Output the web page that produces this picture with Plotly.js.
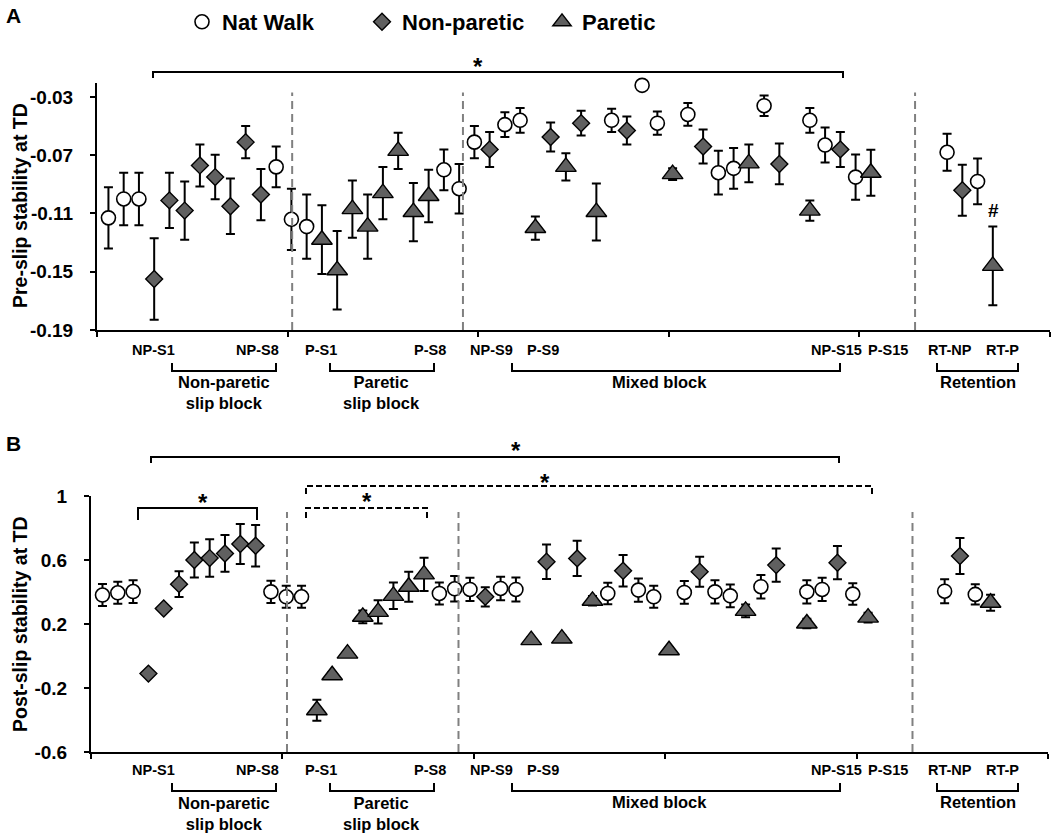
<!DOCTYPE html>
<html>
<head>
<meta charset="utf-8">
<script src="https://cdn.plot.ly/plotly-3.0.1.min.js"></script>
<style>
  html, body { margin: 0; padding: 0; background: #fff; }
  #chart { width: 1053px; height: 834px; }
</style>
</head>
<body>
<div id="chart"></div>
<script>
"use strict";

// Trial index along the protocol (1 = first natural walk, 59 = RT-P).
const natTrials = [1, 2, 3, 12, 13, 14, 23, 24, 25, 27, 28, 34, 36, 37, 39, 41, 42, 44, 47, 48, 50, 56, 58];
const npTrials = [4, 5, 6, 7, 8, 9, 10, 11, 26, 30, 32, 35, 40, 45, 49, 57];
const pTrials = [15, 16, 17, 18, 19, 20, 21, 22, 29, 31, 33, 38, 43, 47, 51, 59];

// Panel A: pre-slip stability at TD (mean and SE).
const natPre = [-0.113, -0.100, -0.100, -0.078, -0.114, -0.119, -0.080, -0.093, -0.061, -0.049, -0.046, -0.046,
  -0.022, -0.048, -0.042, -0.082, -0.079, -0.036, -0.046, -0.063, -0.085, -0.068, -0.088];
const natPreSE = [0.021, 0.018, 0.018, 0.014, 0.021, 0.022, 0.014, 0.017, 0.011, 0.0085, 0.0085, 0.008,
  0.003, 0.008, 0.0078, 0.015, 0.014, 0.007, 0.0085, 0.012, 0.0155, 0.0127, 0.0157];
const npPre = [-0.155, -0.101, -0.108, -0.077, -0.085, -0.105, -0.061, -0.097, -0.066, -0.0575, -0.048, -0.053,
  -0.064, -0.076, -0.066, -0.094];
const npPreSE = [0.028, 0.019, 0.020, 0.0144, 0.0153, 0.019, 0.011, 0.0176, 0.012, 0.010, 0.0085, 0.0096,
  0.0117, 0.014, 0.012, 0.0175];
const pPre = [-0.128, -0.149, -0.107, -0.119, -0.096, -0.067, -0.109, -0.098, -0.120, -0.078, -0.109, -0.083,
  -0.0756, -0.108, -0.082, -0.146];
const pPreSE = [0.0236, 0.027, 0.0197, 0.022, 0.018, 0.0124, 0.020, 0.018, 0.008, 0.0094, 0.0196, 0.004,
  0.013, 0.007, 0.0158, 0.027];

// Panel B: post-slip stability at TD (mean and SE).
const natPost = [0.381, 0.395, 0.403, 0.401, 0.370, 0.370, 0.391, 0.420, 0.416, 0.422, 0.416, 0.391,
  0.412, 0.370, 0.397, 0.401, 0.376, 0.433, 0.401, 0.416, 0.387, 0.405, 0.385];
const natPostSE = [0.069, 0.069, 0.071, 0.069, 0.069, 0.069, 0.069, 0.080, 0.073, 0.073, 0.075, 0.067,
  0.073, 0.069, 0.071, 0.073, 0.071, 0.073, 0.073, 0.073, 0.067, 0.075, 0.063];
const npPost = [-0.110, 0.297, 0.449, 0.600, 0.612, 0.641, 0.700, 0.689, 0.370, 0.589, 0.610, 0.533,
  0.527, 0.568, 0.583, 0.625];
const npPostSE = [0.02, 0.02, 0.081, 0.110, 0.117, 0.115, 0.125, 0.129, 0.06, 0.108, 0.110, 0.098,
  0.094, 0.104, 0.104, 0.113];
const pPost = [-0.339, -0.120, 0.015, 0.245, 0.276, 0.376, 0.433, 0.510, 0.099, 0.109, 0.345, 0.036,
  0.282, 0.203, 0.240, 0.333];
const pPostSE = [0.065, 0.02, 0.02, 0.04, 0.073, 0.083, 0.094, 0.104, 0.02, 0.02, 0.03, 0.02,
  0.04, 0.03, 0.03, 0.05];

const yTicksPre = [-0.19, -0.15, -0.11, -0.07, -0.03];
const yTicksPost = [-0.6, -0.2, 0.2, 0.6, 1];
const trialLabels = ["NP-S1", "NP-S8", "P-S1", "P-S8", "NP-S9", "P-S9", "NP-S15", "P-S15", "RT-NP", "RT-P"];
const blockLabels = ["Non-paretic<br>slip block", "Paretic<br>slip block", "Mixed block", "Retention"];
const seriesNames = ["Nat Walk", "Non-paretic", "Paretic"];

const W = 1053, H = 834;
const X = (px) => px / W;
const Y = (py) => 1 - py / H;
const FONT = "Liberation Sans, Arial, Helvetica, sans-serif";
const GREY = "#606060";

const markerStyles = [
  { symbol: "circle", size: 14, color: "#fff", line: { color: "#000", width: 1.6 } },
  { symbol: "diamond", size: 13, color: GREY, line: { color: "#000", width: 1.4 } },
  { symbol: "triangle-up", size: 18, color: GREY, line: { color: "#000", width: 1.4 } },
];

function series(i, x, y, se, axis, showlegend) {
  return {
    type: "scatter",
    mode: "markers",
    name: seriesNames[i],
    x, y,
    xaxis: axis === 1 ? "x" : "x2",
    yaxis: axis === 1 ? "y" : "y2",
    showlegend,
    marker: markerStyles[i],
    error_y: { type: "data", array: se, visible: true, color: "#000", thickness: 2, width: 4.5 },
    cliponaxis: false,
    hoverinfo: "x+y",
  };
}

const traces = [
  series(0, natTrials, natPre, natPreSE, 1, true),
  series(1, npTrials, npPre, npPreSE, 1, true),
  series(2, pTrials, pPre, pPreSE, 1, true),
  series(0, natTrials, natPost, natPostSE, 2, false),
  series(1, npTrials, npPost, npPostSE, 2, false),
  series(2, pTrials, pPost, pPostSE, 2, false),
];

const tickFont = { family: FONT, size: 19, weight: "bold", color: "#000" };
const xBase = {
  range: [0.25, 62.75],
  tickmode: "array",
  tickvals: [0.25, 12.75, 25.25, 37.75, 50.25, 62.75],
  ticks: "outside", ticklen: 5, tickwidth: 2, tickcolor: "#000",
  showticklabels: false,
  showline: true, linecolor: "#000", linewidth: 2,
  showgrid: false, zeroline: false, fixedrange: true,
};
const yBase = {
  tickmode: "array",
  ticks: "outside", ticklen: 5, tickwidth: 2, tickcolor: "#000",
  tickfont: tickFont, ticklabelstandoff: 13,
  showline: true, linecolor: "#000", linewidth: 2,
  showgrid: false, zeroline: false, fixedrange: true,
};

// ---- shapes: block separators, significance brackets, group brackets ----
const shapes = [];
const blockEdges = [13.05, 24.25, 53.9];
for (const x of blockEdges) {
  shapes.push({ type: "line", xref: "x", yref: "y", x0: x, x1: x, y0: -0.19, y1: -0.027,
    line: { color: "#808080", width: 2, dash: "8px,5px" } });
  shapes.push({ type: "line", xref: "x2", yref: "y2", x0: x, x1: x, y0: -0.6, y1: 0.9,
    line: { color: "#808080", width: 2, dash: "8px,5px" } });
}

function bracket(x0, x1, yLine, yEnd, dash) {
  shapes.push({
    type: "path", xref: "paper", yref: "paper",
    path: `M${X(x0)},${Y(yEnd)} L${X(x0)},${Y(yLine)} L${X(x1)},${Y(yLine)} L${X(x1)},${Y(yEnd)}`,
    line: { color: "#000", width: 2, dash: dash || "solid" },
  });
}
// significance (drop ends downward)
bracket(153, 843, 72, 78);
bracket(151, 839, 457, 463);
bracket(306, 872, 486, 494, "6px,3px");
bracket(306, 427, 508, 518, "6px,3px");
bracket(138, 257, 508, 520);
// group brackets under the trial labels (ends point upward)
const groupSpans = [[172, 276], [330, 434], [512, 840], [937, 1018]];
for (const [a, b] of groupSpans) {
  bracket(a, b, 371, 363);
  bracket(a, b, 791, 783);
}

// ---- annotations ----
const annotations = [];
function note(text, px, py, size, extra) {
  annotations.push(Object.assign({
    text, xref: "paper", yref: "paper", x: X(px), y: Y(py),
    xanchor: "center", yanchor: "middle", showarrow: false,
    font: { family: FONT, size, weight: "bold", color: "#000" },
  }, extra || {}));
}
note("A", 13, 15, 21);
note("B", 13, 443, 21);
note("Pre-slip stability at TD", 20, 206, 19.5, { textangle: -90 });
note("Post-slip stability at TD", 20, 624, 19.5, { textangle: -90 });
// stars
note("*", 478, 67, 24);
note("*", 516, 450, 24);
note("*", 545, 483, 24);
note("*", 367, 501, 24);
note("*", 203, 502, 24);
note("#", 993, 211, 19);

const labelX = [153, 257, 321, 430, 491, 543, 836, 888, 950, 1002];
trialLabels.forEach((t, i) => {
  note(t, labelX[i], 350, 14.5);
  note(t, labelX[i], 770, 14.5);
});
const blockX = [224, 381, 659, 978];
blockLabels.forEach((t, i) => {
  const twoLine = t.includes("<br>");
  note(t, blockX[i], twoLine ? 393 : 382, 16.5);
  note(t, blockX[i], twoLine ? 813 : 802, 16.5);
});

const layout = {
  width: W, height: H,
  margin: { l: 0, r: 0, t: 0, b: 0 },
  paper_bgcolor: "#fff", plot_bgcolor: "rgba(0,0,0,0)",
  font: { family: FONT, color: "#000" },
  showlegend: true,
  legend: {
    orientation: "h", x: X(182), xanchor: "left", y: Y(1), yanchor: "top",
    font: { family: FONT, size: 22, weight: "bold", color: "#000" },
    entrywidth: 135, entrywidthmode: "pixels", itemwidth: 30,
    bgcolor: "rgba(0,0,0,0)",
  },
  xaxis: Object.assign({}, xBase, { domain: [X(97), X(1050)], anchor: "y" }),
  yaxis: Object.assign({}, yBase, {
    domain: [Y(330), Y(83)], anchor: "x", range: [-0.19, -0.0204],
    tickvals: yTicksPre, ticktext: yTicksPre.map(String),
  }),
  xaxis2: Object.assign({}, xBase, { domain: [X(91), X(1048)], anchor: "y2" }),
  yaxis2: Object.assign({}, yBase, {
    domain: [Y(752), Y(496)], anchor: "x2", range: [-0.6, 1],
    tickvals: yTicksPost, ticktext: yTicksPost.map(String),
  }),
  shapes, annotations,
};

Plotly.newPlot("chart", traces, layout, { displayModeBar: false, responsive: false });
</script>
</body>
</html>
